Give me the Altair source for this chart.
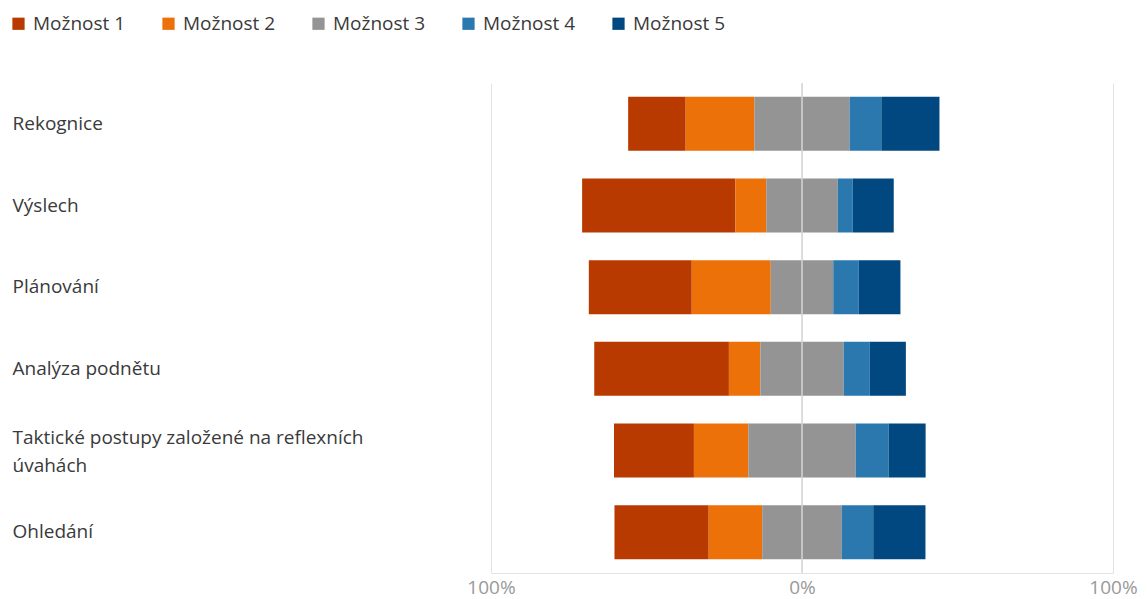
import altair as alt
import pandas as pd

categories = ["Rekognice", "Výslech", "Plánování", "Analýza podnětu",
              "Taktické postupy založené na reflexních úvahách", "Ohledání"]
options = ["Možnost 1", "Možnost 2", "Možnost 3", "Možnost 4", "Možnost 5"]
colors = ["#b93a00", "#eb7108", "#949494", "#2b78af", "#024880"]

m1 = [18.5, 49.3, 33.1, 43.3, 25.7, 30.3]
m2 = [22.1, 9.9, 25.4, 10.1, 17.5, 17.2]
m3 = [30.6, 23.0, 20.1, 26.8, 34.5, 25.6]
m4 = [10.2, 4.8, 8.2, 8.4, 10.6, 10.1]
m5 = [18.7, 13.2, 13.4, 11.6, 11.9, 16.8]

rows = []
for i, c in enumerate(categories):
    vals = [m1[i], m2[i], m3[i], m4[i], m5[i]]
    start = -(vals[0] + vals[1] + vals[2] / 2)
    for j, o in enumerate(options):
        rows.append({"cat": c, "opt": o, "start": start, "end": start + vals[j], "order": j})
        start += vals[j]
df = pd.DataFrame(rows)

font = "Open Sans"
long_label = "Taktické postupy založené na reflexních úvahách"

bars = alt.Chart(df).mark_bar(size=54).encode(
    y=alt.Y("cat:N", sort=categories, title=None,
            scale=alt.Scale(paddingInner=0.34, paddingOuter=0.17),
            axis=alt.Axis(labelAlign="left", labelPadding=479, tickSize=0, ticks=False,
                          domain=False, grid=False, labelLimit=440, labelFontSize=19,
                          labelColor="#3a3a3a", labelFont=font, labelLineHeight=28,
                          labelOffset={"condition": {"test": f"datum.value == '{long_label}'", "value": -13}, "value": 0},
                          labelExpr=f"datum.value == '{long_label}' ? ['Taktické postupy založené na reflexních', 'úvahách'] : datum.value")),
    x=alt.X("start:Q", title=None,
            scale=alt.Scale(domain=[-100, 100], nice=False),
            axis=alt.Axis(values=[-100, 0, 100], labelExpr="abs(datum.value) + '%'",
                          grid=True, gridColor="#e3e3e3", domainColor="#e3e3e3",
                          ticks=False, labelFontSize=19, labelColor="#999999",
                          labelFont=font, labelPadding=5, labelFlush=False)),
    x2="end:Q",
    color=alt.Color("opt:N", sort=options, title=None,
                    scale=alt.Scale(domain=options, range=colors),
                    legend=alt.Legend(orient="none", legendX=-482, legendY=-69,
                                      direction="horizontal", symbolType="square",
                                      symbolSize=150, symbolStrokeWidth=0,
                                      labelFontSize=19, labelFont=font, labelColor="#3a3a3a",
                                      columnPadding=33, labelOffset=5, padding=0)),
    order="order:Q",
)

zero = alt.Chart(pd.DataFrame({"z": [0]})).mark_rule(color="#d6d6d6", strokeWidth=1.5).encode(
    x="z:Q"
)

chart = alt.layer(bars, zero).properties(
    width=622, height=490,
    autosize=alt.AutoSizeParams(type="none"),
    padding={"left": 483, "top": 75, "right": 26, "bottom": 26},
).configure_view(stroke=None)

chart.save("out.html", embed_options={"renderer": "svg", "actions": False})
